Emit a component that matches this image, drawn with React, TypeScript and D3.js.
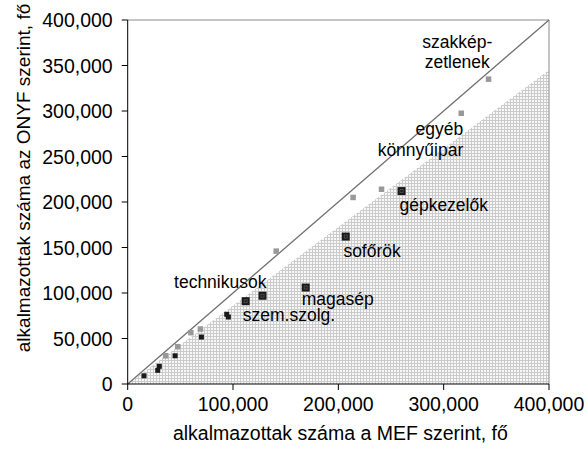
import React from "react";
import * as d3 from "d3";

const xTicks = [0, 100000, 200000, 300000, 400000];
const yTicks = [0, 50000, 100000, 150000, 200000, 250000, 300000, 350000, 400000];

// gray small markers
const grayX = [36000, 47500, 60000, 69000, 141000, 214000, 241000, 316700, 342600];
const grayY = [31000, 41000, 56400, 60400, 146000, 205000, 214000, 297500, 335000];

// small black markers
const blackX = [15500, 28500, 30000, 45000, 70000, 94000, 95600];
const blackY = [9000, 15000, 19400, 31000, 51600, 76600, 73600];

// big black markers (labelled occupations)
const bigX = [112000, 128000, 169000, 207000, 260000];
const bigY = [91000, 97000, 106000, 162000, 212000];

// shaded region upper edge at x = 400000
const shadeTopAtMax = 345000;

const labelTexts = ["szakkép-", "zetlenek", "egyéb", "könnyűipar", "gépkezelők", "sofőrök", "technikusok", "magasép", "szem.szolg."];
const labelX = [312900, 312900, 318600, 318600, 258000, 204800, 44000, 165300, 109300];
const labelY = [376000, 354000, 281000, 258000, 196700, 147000, 112400, 93800, 76300];
const labelAnchor = ["middle", "middle", "end", "end", "start", "start", "start", "start", "start"];

const xTitle = "alkalmazottak száma a MEF szerint, fő";
const yTitle = "alkalmazottak száma az ONYF szerint, fő";

const W = 588, H = 456;
const L = 127.7, R = 549, T = 20, B = 384;
const FONT = "'Liberation Sans', Arial, sans-serif";

export default function App() {
  const x = d3.scaleLinear().domain([0, 400000]).range([L, R]);
  const y = d3.scaleLinear().domain([0, 400000]).range([B, T]);
  const fmt = d3.format(",");

  const tri = d3.line<[number, number]>().x(d => x(d[0])).y(d => y(d[1]))([
    [0, 0], [400000, shadeTopAtMax], [400000, 0],
  ]) + "Z";

  return (
    <svg width={W} height={H} style={{ position: "absolute", left: 0, top: 0, background: "#fff" }}
      fontFamily={FONT}>
      <defs>
        <pattern id="grid" width="3" height="3" patternUnits="userSpaceOnUse">
          <rect width="3" height="3" fill="#f8f8f8" />
          <rect x="0" y="0" width="3" height="1" fill="#cbcbcb" />
          <rect x="0" y="0" width="1" height="3" fill="#cbcbcb" />
        </pattern>
      </defs>
      <rect width={W} height={H} fill="#fff" />
      <path d={tri} fill="url(#grid)" />
      {/* frame */}
      <line x1={L} x2={R} y1={T} y2={T} stroke="#8a8a8a" strokeWidth={1} />
      <line x1={R} x2={R} y1={T} y2={B} stroke="#8a8a8a" strokeWidth={1} />
      {/* diagonal */}
      <line x1={x(0)} y1={y(0)} x2={x(400000)} y2={y(400000)} stroke="#707070" strokeWidth={1.3} />
      {/* axes */}
      <line x1={L} x2={L} y1={T} y2={B} stroke="#000" strokeWidth={1} />
      <line x1={L} x2={R} y1={B} y2={B} stroke="#000" strokeWidth={1} />
      {yTicks.map(t => (
        <g key={"y" + t}>
          <line x1={L - 6} x2={L} y1={y(t)} y2={y(t)} stroke="#000" />
          <text x={L - 15} y={y(t)} dy="0.36em" textAnchor="end" fontSize={19.5} fill="#000">{fmt(t)}</text>
        </g>
      ))}
      {xTicks.map(t => (
        <g key={"x" + t}>
          <line x1={x(t)} x2={x(t)} y1={B} y2={B + 6} stroke="#000" />
          <text x={x(t)} y={404} dy="0.36em" textAnchor="middle" fontSize={19.5} fill="#000">{fmt(t)}</text>
        </g>
      ))}
      <text x={(L + R) / 2 + 2} y={433} dy="0.36em" textAnchor="middle" fontSize={19.5} fill="#000">{xTitle}</text>
      <text transform={`translate(23,178) rotate(-90)`} dy="0.36em" textAnchor="middle" fontSize={19} fill="#000">{yTitle}</text>
      {/* markers */}
      {grayX.map((v, i) => (
        <rect key={"g" + i} x={x(v) - 2.75} y={y(grayY[i]) - 2.75} width={5.5} height={5.5} fill="#999" />
      ))}
      {blackX.map((v, i) => (
        <rect key={"b" + i} x={x(v) - 2.5} y={y(blackY[i]) - 2.5} width={5} height={5} fill="#1a1a1a" />
      ))}
      {bigX.map((v, i) => (
        <g key={"k" + i}>
          <rect x={x(v) - 4} y={y(bigY[i]) - 4} width={8} height={8} fill="#1a1a1a" />
          <rect x={x(v) - 1.5} y={y(bigY[i]) - 1.5} width={3} height={3} fill="none" stroke="#555" strokeWidth={0.8} />
        </g>
      ))}
      {labelTexts.map((t, i) => (
        <text key={"l" + i} x={x(labelX[i])} y={y(labelY[i])} dy="0.36em" textAnchor={labelAnchor[i] as any}
          fontSize={17.5} fill="#000">{t}</text>
      ))}
    </svg>
  );
}
